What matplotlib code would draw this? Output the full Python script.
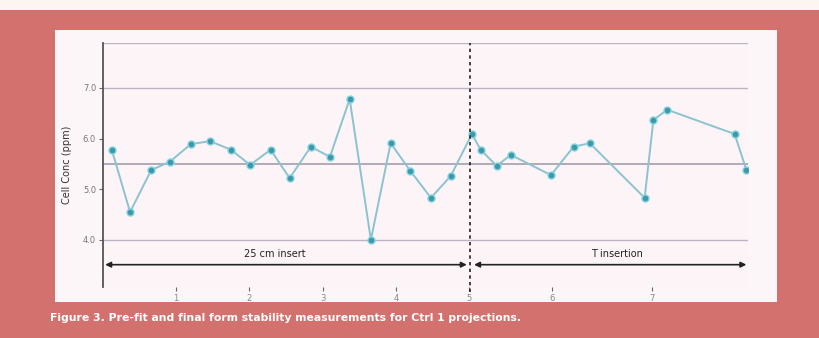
import matplotlib; matplotlib.use("Agg")
import matplotlib.pyplot as plt
from matplotlib.patches import Rectangle

RED = "#d3716f"; PANEL = "#fdf6f8"; PLOTBG = "#fdf4f7"
LINE = "#8cc3cf"; MARK = "#3e98aa"; MEDGE = "#7fd3e0"; GRID = "#bcb3c4"

# measurements, phase 1 (insert) and phase 2 (insertion)
x1 = [0.12, 0.37, 0.66, 0.91, 1.20, 1.46, 1.75, 2.01, 2.29, 2.55, 2.84, 3.10,
      3.37, 3.66, 3.93, 4.20, 4.48, 4.75, 5.04]
y1 = [5.78, 4.55, 5.38, 5.54, 5.89, 5.95, 5.78, 5.48, 5.78, 5.22, 5.84, 5.64,
      6.78, 4.00, 5.91, 5.36, 4.83, 5.26, 6.09]
x2 = [5.16, 5.38, 5.57, 6.12, 6.43, 6.65, 7.40, 7.52, 7.71, 8.63, 8.79]
y2 = [5.78, 5.46, 5.68, 5.28, 5.84, 5.91, 4.83, 6.37, 6.57, 6.09, 5.38]
center = 5.5; ucl = 7.0; lcl = 4.0
yticks = [4.0, 5.0, 6.0, 7.0]
xticks = [1, 2, 3, 4, 5, 6.14, 7.5]
xlabels = ["1", "2", "3", "4", "5", "6", "7"]
split = 5.02
phase_labels = ["25 cm insert", "T insertion"]

fig = plt.figure(figsize=(8.2, 3.38), dpi=100, facecolor=RED)
# top light strip and inner white panel
fig.patches.append(Rectangle((0, 0.97), 1, 0.03, transform=fig.transFigure,
                             facecolor="#fbf6f2", edgecolor="none", zorder=-5))
fig.patches.append(Rectangle((0.067, 0.1065), 0.881, 0.8045, transform=fig.transFigure,
                             facecolor=PANEL, edgecolor="none", zorder=-5))

ax = fig.add_axes([0.1256, 0.151, 0.7864, 0.722])
ax.set_zorder(2)
ax.set_facecolor(PLOTBG)
ax.set_xlim(0, 8.81); ax.set_ylim(3.07, 7.89)

for v in [ucl, lcl, 7.89]:
    ax.axhline(v, color=GRID, lw=1.0, zorder=1)
ax.axhline(center, color="#9c97a6", lw=1.1, zorder=1)

ax.plot(x1 + x2, y1 + y2, color=LINE, lw=1.4, zorder=2)
ax.plot(x1 + x2, y1 + y2, ls="none", marker="o", ms=5, mfc=MARK, mec=MEDGE, mew=1.0, zorder=3)

ax.axvline(split, ymin=-0.02, color="#222222", lw=1.2, ls=(0, (2, 2)), zorder=4, clip_on=False)

# phase arrows
arr = dict(arrowstyle="<|-|>", color="#222222", lw=1.2, mutation_scale=8, shrinkA=0, shrinkB=0)
ax.annotate("", xy=(0.03, 3.51), xytext=(split - 0.05, 3.51), arrowprops=arr)
ax.annotate("", xy=(split + 0.05, 3.51), xytext=(8.79, 3.51), arrowprops=arr)
ax.text(2.35, 3.62, phase_labels[0], ha="center", va="bottom", fontsize=7, color="#222222")
ax.text(7.02, 3.62, phase_labels[1], ha="center", va="bottom", fontsize=7, color="#222222")

ax.set_yticks(yticks)
ax.set_yticklabels([f"{t:.1f}" for t in yticks], fontsize=6, color="#777777")
ax.set_xticks(xticks)
ax.set_xticklabels(xlabels, fontsize=6, color="#888888")
ax.tick_params(axis="both", length=3, width=0.8, color="#666666", pad=2)
ax.set_ylabel("Cell Conc (ppm)", fontsize=7, color="#333333", labelpad=8)

for s in ["top", "right", "bottom"]:
    ax.spines[s].set_visible(False)
ax.spines["left"].set_color("#555555"); ax.spines["left"].set_linewidth(1.3)

fig.text(0.061, 0.059, "Figure 3. Pre-fit and final form stability measurements for Ctrl 1 projections.",
         fontsize=7.8, color="white", fontweight="bold", va="center")

fig.savefig("out.png", dpi=100, facecolor=RED)
